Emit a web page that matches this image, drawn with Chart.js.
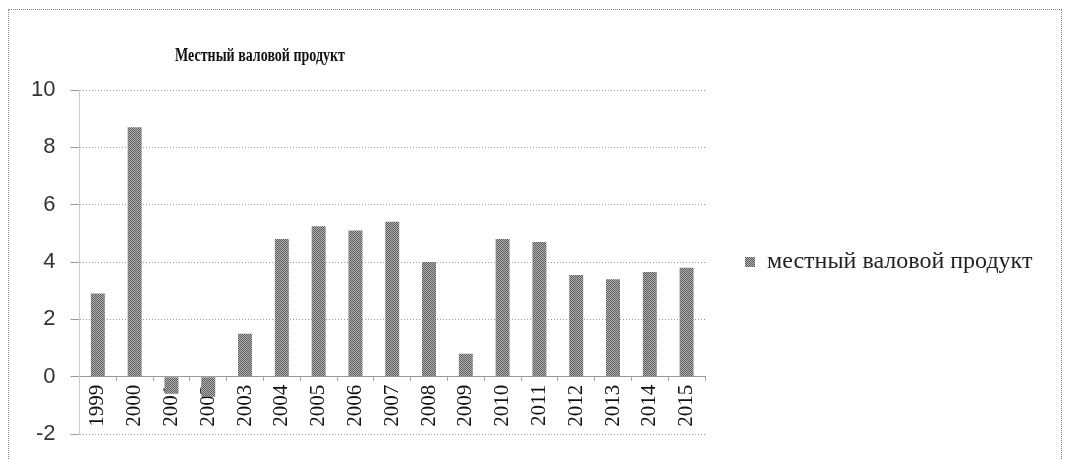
<!DOCTYPE html>
<html>
<head>
<meta charset="utf-8">
<script src="https://cdn.jsdelivr.net/npm/chart.js@4/dist/chart.umd.min.js"></script>
<style>
  html, body { margin: 0; padding: 0; background: #fff; }
  #wrap { position: relative; width: 1065px; height: 460px; }
  #frame { position: absolute; left: 8px; top: 9px; width: 1054px; height: 470px; border: 1px dotted #888; box-sizing: border-box; pointer-events: none; }
  canvas { position: absolute; left: 0; top: 0; }
</style>
</head>
<body>
<div id="wrap">
  <canvas id="c" width="1065" height="460"></canvas>
  <div id="frame"></div>
</div>
<script>
const categories = ['1999','2000','2001','2002','2003','2004','2005','2006','2007','2008','2009','2010','2011','2012','2013','2014','2015'];
const seriesName = 'местный валовой продукт';
const values = [2.9, 8.7, -0.6, -0.7, 1.5, 4.8, 5.25, 5.1, 5.4, 4.0, 0.8, 4.8, 4.7, 3.55, 3.4, 3.65, 3.8];
const chartTitle = 'Местный валовой продукт';
const yMin = -2, yMax = 10, yStep = 2;

// dithered grey fill like the reference
const pc = document.createElement('canvas');
pc.width = 2; pc.height = 2;
const px = pc.getContext('2d');
px.fillStyle = '#b0b0b0'; px.fillRect(0,0,2,2);
px.fillStyle = '#5e5e5e'; px.fillRect(0,0,1,1); px.fillRect(1,1,1,1);
const ctx = document.getElementById('c').getContext('2d');
const pattern = ctx.createPattern(pc, 'repeat');

const serif = "'Liberation Serif', 'DejaVu Serif', serif";
const sans = "'Liberation Sans', 'DejaVu Sans', sans-serif";

const legendFont = { family: serif, size: 24 };
ctx.font = legendFont.size + 'px ' + serif;
const textW = ctx.measureText(seriesName).width;
const legendPad = 40, boxW = 10;
const legendW = legendPad + boxW + legendFont.size / 2 + textW + 10;
const rightPad = Math.max(0, 1065 - 705 - legendW);

const titlePlugin = {
  id: 'customTitle',
  afterDraw(chart) {
    const c = chart.ctx;
    c.save();
    c.font = 'bold 18px ' + serif;
    c.fillStyle = '#111';
    c.textAlign = 'center';
    c.textBaseline = 'middle';
    const w = c.measureText(chartTitle).width;
    c.translate(260, 56);
    c.scale(170 / w, 1);
    c.fillText(chartTitle, 0, 0);
    c.restore();
  }
};

new Chart(ctx, {
  type: 'bar',
  data: {
    labels: categories,
    datasets: [{
      label: seriesName,
      data: values,
      backgroundColor: pattern,
      borderWidth: 0,
      barPercentage: 0.38,
      categoryPercentage: 1.0
    }]
  },
  options: {
    responsive: false,
    animation: false,
    devicePixelRatio: 1,
    layout: { padding: { top: 90, bottom: 26, left: 16, right: rightPad } },
    plugins: {
      title: { display: false },
      tooltip: { enabled: false },
      legend: {
        position: 'right',
        maxWidth: 420,
        labels: {
          boxWidth: boxW, boxHeight: boxW,
          padding: legendPad,
          color: '#222',
          font: legendFont
        }
      }
    },
    scales: {
      x: {
        position: { y: 0 },
        z: 1,
        grid: { display: true, drawOnChartArea: false, drawTicks: true, tickLength: 4, color: '#aaa', offset: true },
        border: { display: true, color: '#999', dash: [1, 2] },
        ticks: {
          color: '#111',
          font: { family: serif, size: 21 },
          minRotation: 90, maxRotation: 90,
          padding: 4,
          autoSkip: false
        }
      },
      y: {
        min: yMin, max: yMax,
        grid: { color: '#999', tickLength: 9, drawTicks: true },
        border: { display: true, color: '#ccc', dash: [1, 2] },
        ticks: {
          stepSize: yStep,
          color: '#333',
          padding: 15,
          font: { family: sans, size: 22, lineHeight: 1 }
        }
      }
    }
  },
  plugins: [titlePlugin]
});
</script>
</body>
</html>
